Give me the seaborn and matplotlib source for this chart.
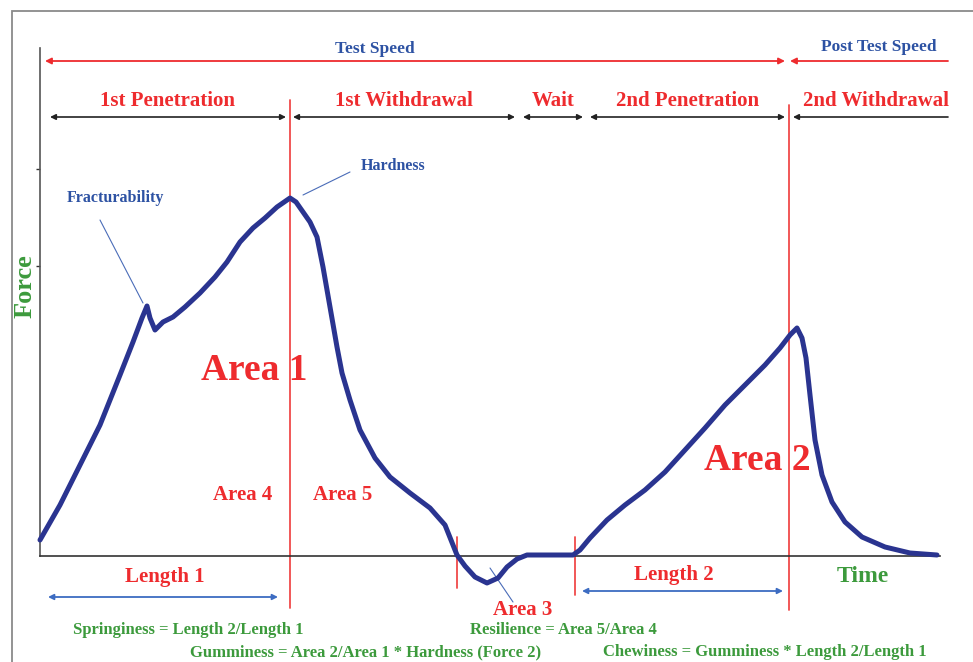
import matplotlib
matplotlib.use("Agg")
import matplotlib.pyplot as plt
from matplotlib.patches import Rectangle
import seaborn as sns
import pandas as pd

# Texture profile analysis curve (time vs force, arbitrary units)
time = [0, 20, 40, 60, 80, 93, 102, 107, 110, 115, 123, 133, 145, 160, 175, 187,
        200, 213, 225, 237, 250, 256, 263, 270, 277, 283, 290, 297, 302, 310,
        320, 335, 350, 370, 390, 405, 417, 425, 435, 447, 458, 467, 477, 487,
        510, 533, 540, 550, 567, 585, 605, 625, 645, 665, 685, 705, 725, 740,
        750, 757, 762, 766, 770, 775, 782, 792, 805, 822, 845, 870, 897]
force = [16, 51, 91, 131, 181, 214, 238, 250, 238, 226, 234, 239, 249, 263, 279, 294,
         314, 328, 338, 349, 358, 354, 344, 334, 319, 289, 249, 209, 183, 156,
         126, 98, 79, 63, 48, 31, 1, -10, -21, -27, -22, -11, -3, 1,
         1, 1, 6, 18, 36, 51, 66, 84, 106, 128, 151, 171, 191, 208,
         221, 228, 218, 198, 161, 116, 81, 54, 34, 19, 9, 3, 1]

curve = pd.DataFrame({"time": time, "force": force})

phase_names = ["1st Penetration", "1st Withdrawal", "Wait", "2nd Penetration", "2nd Withdrawal"]
phase_start = [10, 253, 483, 550, 753]
phase_end = [246, 475, 543, 745, 908]
y_ticks = [290, 387]

formulas = ["Springiness = Length 2/Length 1",
            "Resilience = Area 5/Area 4",
            "Gumminess = Area 2/Area 1 * Hardness (Force 2)",
            "Chewiness = Gumminess * Length 2/Length 1"]

RED = "#ee2b2e"
LRED = "#f04a4a"
GREEN = "#3c9a3c"
BLUE = "#2d52a3"
NAVY = "#2a3490"
LBLUE = "#3d6cc2"

sns.set_style("white")
plt.rcParams["font.family"] = ["Liberation Serif", "DejaVu Serif"]
plt.rcParams["font.weight"] = "bold"

fig = plt.figure(figsize=(9.73, 6.62), dpi=100)
fig.patches.append(Rectangle((12 / 973, -0.05), 1.1, (662 - 11) / 662 + 0.05,
                             transform=fig.transFigure, fill=False,
                             edgecolor="#8a8a8a", linewidth=1.3))
ax = fig.add_axes([40 / 973, 106 / 662, 900 / 973, 508 / 662])

sns.lineplot(data=curve, x="time", y="force", sort=False, estimator=None,
             color=NAVY, linewidth=3.6, ax=ax)
for ln in ax.lines:
    ln.set_clip_on(False)
    ln.set_solid_joinstyle("round")
    ln.set_zorder(3)

ax.set_xlim(0, 900)
ax.set_ylim(0, 508)
ax.set_xlabel("")
ax.set_ylabel("")
ax.set_xticks([])
ax.set_yticks(y_ticks)
ax.set_yticklabels([])
ax.tick_params(axis="y", direction="out", length=3, width=1, color="#333333", left=True)
for s in ["top", "right"]:
    ax.spines[s].set_visible(False)
ax.spines["left"].set_color("#555555")
ax.spines["bottom"].set_color("#333333")
ax.spines["left"].set_linewidth(1.2)
ax.spines["bottom"].set_linewidth(1.2)
ax.patch.set_alpha(0)

# vertical red markers
for x, y0, y1 in [(250, -52, 456), (417, -32, 19), (535, -39, 19), (749, -54, 451)]:
    ax.plot([x, x], [y0, y1], color=LRED, linewidth=1.3, clip_on=False, zorder=1)

# speed arrows
ax.annotate("", xy=(5, 495), xytext=(745, 495),
            arrowprops=dict(arrowstyle="<|-|>", color=RED, lw=1.3, mutation_scale=9,
                            shrinkA=0, shrinkB=0))
ax.annotate("", xy=(750, 495), xytext=(908, 495),
            arrowprops=dict(arrowstyle="-|>", color=RED, lw=1.3, mutation_scale=9,
                            shrinkA=0, shrinkB=0))
ax.text(335, 507, "Test Speed", color=BLUE, fontsize=12.5, ha="center", va="center")
ax.text(839, 509, "Post Test Speed", color=BLUE, fontsize=12.5, ha="center", va="center")

# phase arrows
for name, a, b in zip(phase_names, phase_start, phase_end):
    style = "-|>" if name == "2nd Withdrawal" else "<|-|>"
    ax.annotate("", xy=(a, 439), xytext=(b, 439),
                arrowprops=dict(arrowstyle=style, color="#222222", lw=1.2,
                                mutation_scale=8, shrinkA=0, shrinkB=0))
    ax.text((a + b) / 2 if name != "2nd Withdrawal" else 836, 455, name, color=RED,
            fontsize=15, ha="center", va="center")

# feature labels
ax.text(75, 358, "Fracturability", color=BLUE, fontsize=11.5, ha="center", va="center")
ax.plot([60, 103], [336, 253], color="#4a6cb8", linewidth=0.8)
ax.text(353, 390, "Hardness", color=BLUE, fontsize=11.5, ha="center", va="center")
ax.plot([310, 263], [384, 361], color="#4a6cb8", linewidth=0.8)

ax.text(214, 186, "Area 1", color=RED, fontsize=27, ha="center", va="center")
ax.text(717, 96, "Area 2", color=RED, fontsize=27, ha="center", va="center")
ax.text(203, 61, "Area 4", color=RED, fontsize=15, ha="center", va="center")
ax.text(303, 61, "Area 5", color=RED, fontsize=15, ha="center", va="center")
ax.text(483, -54, "Area 3", color=RED, fontsize=15, ha="center", va="center")
ax.plot([450, 473], [-12, -46], color="#4a6cb8", linewidth=0.8, clip_on=False)

# lengths
ax.text(125, -21, "Length 1", color=RED, fontsize=15, ha="center", va="center")
ax.annotate("", xy=(8, -41), xytext=(238, -41), annotation_clip=False,
            arrowprops=dict(arrowstyle="<|-|>", color=LBLUE, lw=1.3, mutation_scale=8,
                            shrinkA=0, shrinkB=0))
ax.text(634, -19, "Length 2", color=RED, fontsize=15, ha="center", va="center")
ax.annotate("", xy=(542, -35), xytext=(743, -35), annotation_clip=False,
            arrowprops=dict(arrowstyle="<|-|>", color=LBLUE, lw=1.3, mutation_scale=8,
                            shrinkA=0, shrinkB=0))

# axis names
ax.text(823, -21, "Time", color=GREEN, fontsize=17, ha="center", va="center")
ax.text(-15, 270, "Force", color=GREEN, fontsize=19, ha="center", va="center", rotation=90)

# formulas
ax.text(33, -74, formulas[0], color=GREEN, fontsize=12, ha="left", va="center")
ax.text(430, -74, formulas[1], color=GREEN, fontsize=12, ha="left", va="center")
ax.text(150, -96, formulas[2], color=GREEN, fontsize=12, ha="left", va="center")
ax.text(563, -96, formulas[3], color=GREEN, fontsize=12, ha="left", va="center")

fig.savefig("out.png", dpi=100)
